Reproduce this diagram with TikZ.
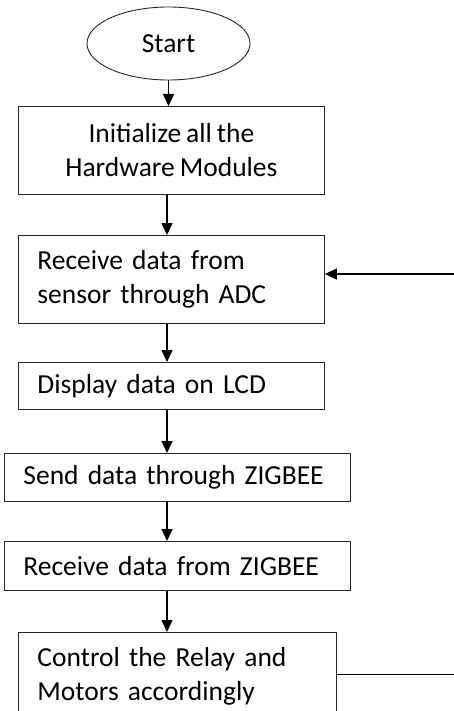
\documentclass[tikz,border=0pt]{standalone}
\usepackage{fontspec}
\setmainfont{Carlito}[WordSpace=0.8]
\usetikzlibrary{arrows.meta,shapes.geometric}
\tikzset{
  txt/.style={font=\fontsize{27.5}{34}\selectfont},
  box/.style={draw=black!85, line width=0.9pt, rectangle, inner ysep=0pt, txt,
    anchor=north west},
  lbox/.style={box, align=left, inner xsep=19pt},
  cbox/.style={box, align=center},
  flow/.style={line width=1.4pt, -{Triangle[width=11pt,length=12pt]}},
  back/.style={line width=0.9pt}
}
\begin{document}
\begin{tikzpicture}[x=1pt,y=-1pt]
  \useasboundingbox (0,0) rectangle (454,711);
  \clip (0,0) rectangle (454,711);
  % terminal
  \node[ellipse, draw=black!85, line width=0.9pt, minimum width=163pt, minimum height=73pt,
        inner sep=0pt, txt] (start) at (168.5,43.5) {Start};
  % process steps
  \node[cbox, minimum width=306pt, minimum height=88pt] (init) at (18,106)
    {Initialize all the\\Hardware Modules};
  \node[lbox, minimum width=306pt, minimum height=88pt, text width=268pt] (adc) at (18,235)
    {Receive data from\\sensor through ADC};
  \node[lbox, minimum width=306pt, minimum height=47pt, text width=268pt] (lcd) at (18,362)
    {Display data on LCD};
  \node[lbox, minimum width=346pt, minimum height=48pt, text width=308pt] (send) at (4,453)
    {Send data through ZIGBEE};
  \node[lbox, minimum width=346pt, minimum height=49pt, text width=308pt] (recv) at (4,541)
    {Receive data from ZIGBEE};
  \node[lbox, minimum width=318pt, minimum height=88pt, text width=280pt] (ctrl) at (18,632)
    {Control the Relay and\\Motors accordingly};
  % main flow
  \coordinate (ax) at (167,0);
  \draw[flow] (start.south) -- (start.south |- init.north);
  \draw[flow] (ax |- init.south) -- (ax |- adc.north);
  \draw[flow] (ax |- adc.south) -- (ax |- lcd.north);
  \draw[flow] (ax |- lcd.south) -- (ax |- send.north);
  \draw[flow] (ax |- send.south) -- (ax |- recv.north);
  \draw[flow] (ax |- recv.south) -- (ax |- ctrl.north);
  % loop back
  \coordinate (outR) at (454,674);
  \coordinate (inR) at (454,274);
  \draw[back] (ctrl.east |- outR) -- (outR);
  \draw[flow, line width=1.1pt] (inR) -- (adc.east |- inR);
\end{tikzpicture}
\end{document}
